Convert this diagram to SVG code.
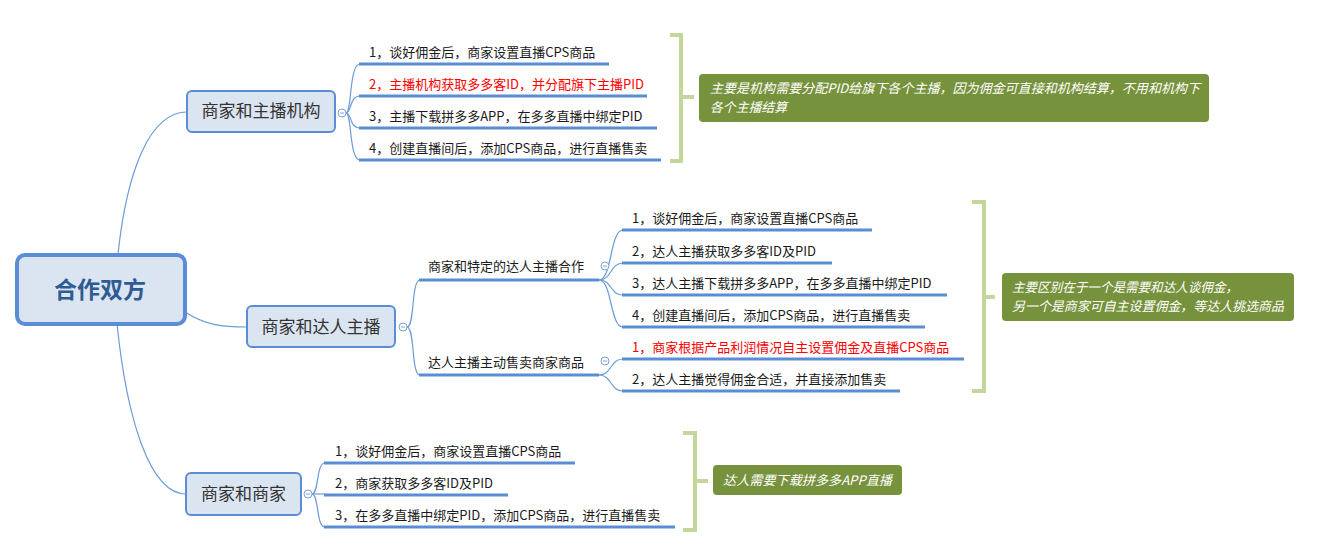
<svg xmlns="http://www.w3.org/2000/svg" width="1331" height="556" viewBox="0 0 1331 556">
<style>
text{font-family:"Noto Sans CJK SC","Liberation Sans",sans-serif;}
.conn{fill:none;stroke:#6A9BD8;stroke-width:1.2;}
.ul{fill:none;stroke:#5B8DD6;stroke-width:3;}
.box{fill:#DBE5F1;stroke:#5B8DD6;stroke-width:2;}
.root{fill:#DBE5F1;stroke:#5B8DD6;stroke-width:4;}
.rt{font-size:23px;font-weight:bold;fill:#2F5B93;text-anchor:middle;}
.bt{font-size:17px;fill:#333;text-anchor:middle;}
.lt{font-size:13px;fill:#1a1a1a;}
.red{fill:#FF0000;}
.col{fill:#fff;stroke:#7BA3DB;stroke-width:1;}
.minus{stroke:#7BA3DB;stroke-width:1;}
.br{fill:none;stroke:#C3D69B;stroke-width:4;}
.co{fill:#76923C;}
.ct{font-size:13px;font-style:italic;fill:#fff;}
</style>
<rect width="1331" height="556" fill="#fff"/>
<g id="connectors">
<path class="conn" d="M118,254 C127,170 150,112 187,112"/>
<path class="conn" d="M185,312 C205,325 222,327 247,327"/>
<path class="conn" d="M117,324 C127,420 150,494 186,494"/>
<path class="conn" d="M346,113 C352,113 349,64 360,64"/>
<path class="conn" d="M346,113 C352,113 349,96 360,96"/>
<path class="conn" d="M346,113 C352,113 349,128 360,128"/>
<path class="conn" d="M346,113 C352,113 349,160 360,160"/>
<path class="conn" d="M407,327 C415,327 411,280 420,280"/>
<path class="conn" d="M407,327 C415,327 411,375 420,375"/>
<path class="conn" d="M599,280 C612,280 610,230 623,230"/>
<path class="conn" d="M599,280 C612,280 610,263 623,263"/>
<path class="conn" d="M599,280 C612,280 610,295 623,295"/>
<path class="conn" d="M599,280 C612,280 610,327 623,327"/>
<path class="conn" d="M599,375 C612,375 610,359 623,359"/>
<path class="conn" d="M599,375 C612,375 610,391 623,391"/>
<path class="conn" d="M312,494 C319,494 316,463 325,463"/>
<path class="conn" d="M312,494 L325,494"/>
<path class="conn" d="M312,494 C319,494 316,527 325,527"/>
</g>
<g id="root">
<rect class="root" x="17" y="255" width="168" height="69" rx="8"/>
<text class="rt" x="100" y="298">合作双方</text>
</g>
<g id="branch1">
<rect class="box" x="187" y="91" width="148" height="41" rx="5"/>
<text class="bt" x="261" y="117">商家和主播机构</text>
<circle class="col" cx="342" cy="113" r="4"/><path class="minus" d="M340,113 H344"/>
</g>
<g id="b1-leaf1"><path class="ul" d="M359,64 H609"/><text class="lt" x="369" y="57">1，谈好佣金后，商家设置直播CPS商品</text></g>
<g id="b1-leaf2"><path class="ul" d="M359,96 H647"/><text class="lt red" x="369" y="89">2，主播机构获取多多客ID，并分配旗下主播PID</text></g>
<g id="b1-leaf3"><path class="ul" d="M359,128 H657"/><text class="lt" x="369" y="121">3，主播下载拼多多APP，在多多直播中绑定PID</text></g>
<g id="b1-leaf4"><path class="ul" d="M359,160 H661"/><text class="lt" x="369" y="153">4，创建直播间后，添加CPS商品，进行直播售卖</text></g>
<g id="b1-note">
<path class="br" d="M670,35 H681 V161 H670 M681,97 H694"/>
<rect class="co" x="699" y="74" width="510" height="48" rx="4"/>
<text class="ct" x="710" y="93" textLength="490" lengthAdjust="spacingAndGlyphs">主要是机构需要分配PID给旗下各个主播，因为佣金可直接和机构结算，不用和机构下</text>
<text class="ct" x="710" y="112" textLength="77" lengthAdjust="spacingAndGlyphs">各个主播结算</text>
</g>
<g id="branch2">
<rect class="box" x="247" y="306" width="148" height="41" rx="5"/>
<text class="bt" x="321" y="333">商家和达人主播</text>
<circle class="col" cx="403" cy="327" r="4"/><path class="minus" d="M401,327 H405"/>
</g>
<g id="b2-sub1">
<path class="ul" d="M419,280 H599"/>
<text class="lt" x="428" y="271">商家和特定的达人主播合作</text>
<circle class="col" cx="605" cy="266" r="4"/><path class="minus" d="M603,266 H607"/>
</g>
<g id="b2-sub2">
<path class="ul" d="M419,375 H599"/>
<text class="lt" x="428" y="367">达人主播主动售卖商家商品</text>
<circle class="col" cx="605" cy="361" r="4"/><path class="minus" d="M603,361 H607"/>
</g>
<g id="b2-leaf1"><path class="ul" d="M622,230 H872"/><text class="lt" x="632" y="223">1，谈好佣金后，商家设置直播CPS商品</text></g>
<g id="b2-leaf2"><path class="ul" d="M622,263 H832"/><text class="lt" x="632" y="256">2，达人主播获取多多客ID及PID</text></g>
<g id="b2-leaf3"><path class="ul" d="M622,295 H947"/><text class="lt" x="632" y="288">3，达人主播下载拼多多APP，在多多直播中绑定PID</text></g>
<g id="b2-leaf4"><path class="ul" d="M622,327 H925"/><text class="lt" x="632" y="320">4，创建直播间后，添加CPS商品，进行直播售卖</text></g>
<g id="b2-leaf5"><path class="ul" d="M622,359 H964"/><text class="lt red" x="632" y="352">1，商家根据产品利润情况自主设置佣金及直播CPS商品</text></g>
<g id="b2-leaf6"><path class="ul" d="M622,391 H900"/><text class="lt" x="632" y="384">2，达人主播觉得佣金合适，并直接添加售卖</text></g>
<g id="b2-note">
<path class="br" d="M972,202 H984 V391 H972 M984,297 H995"/>
<rect class="co" x="1002" y="273" width="292" height="48" rx="4"/>
<text class="ct" x="1012" y="292" textLength="226" lengthAdjust="spacingAndGlyphs">主要区别在于一个是需要和达人谈佣金，</text>
<text class="ct" x="1012" y="311" textLength="272" lengthAdjust="spacingAndGlyphs">另一个是商家可自主设置佣金，等达人挑选商品</text>
</g>
<g id="branch3">
<rect class="box" x="186" y="473" width="115" height="42" rx="5"/>
<text class="bt" x="243.5" y="500">商家和商家</text>
<circle class="col" cx="308" cy="494" r="4"/><path class="minus" d="M306,494 H310"/>
</g>
<g id="b3-leaf1"><path class="ul" d="M324,463 H575"/><text class="lt" x="335" y="456">1，谈好佣金后，商家设置直播CPS商品</text></g>
<g id="b3-leaf2"><path class="ul" d="M324,495 H508"/><text class="lt" x="335" y="488">2，商家获取多多客ID及PID</text></g>
<g id="b3-leaf3"><path class="ul" d="M324,527 H675"/><text class="lt" x="335" y="520">3，在多多直播中绑定PID，添加CPS商品，进行直播售卖</text></g>
<g id="b3-note">
<path class="br" d="M683,433 H695 V530 H683 M695,481 H708"/>
<rect class="co" x="713" y="465" width="189" height="30" rx="4"/>
<text class="ct" x="723" y="485" textLength="169" lengthAdjust="spacingAndGlyphs">达人需要下载拼多多APP直播</text>
</g>
</svg>
